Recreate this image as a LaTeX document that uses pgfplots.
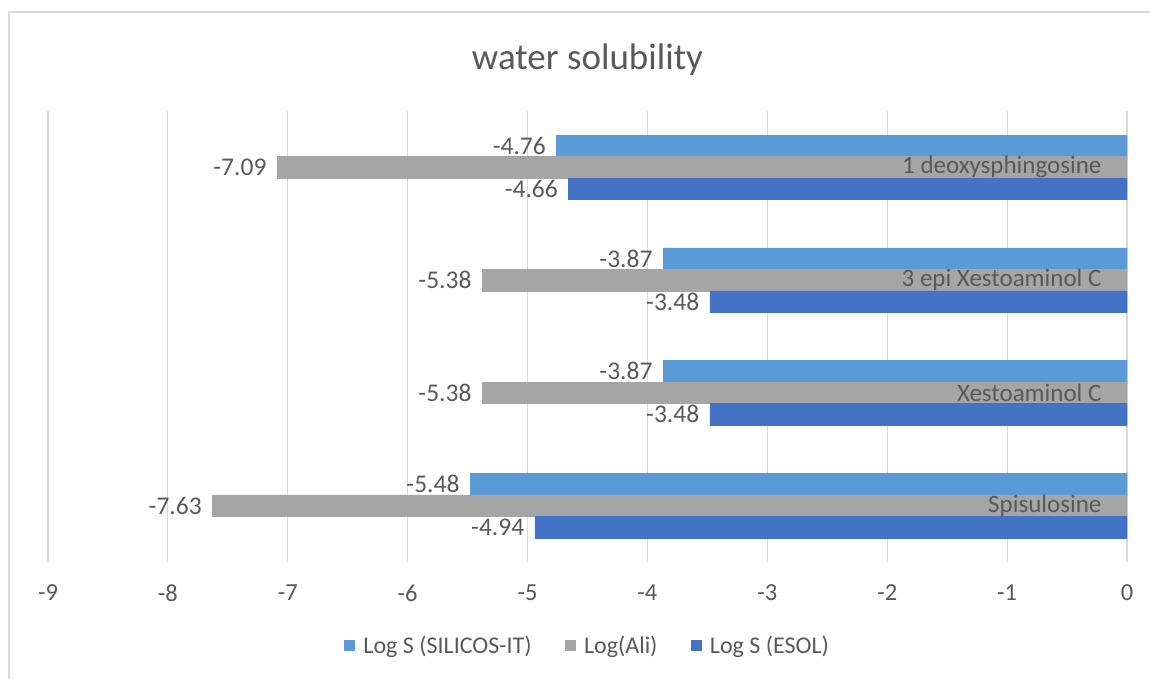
\documentclass[border=0pt]{standalone}
\usepackage{fontspec}
\setmainfont{Carlito}
\usepackage{pgfplots}
\pgfplotsset{compat=1.18}
\definecolor{cSil}{HTML}{5B9BD5}
\definecolor{cAli}{HTML}{A5A5A5}
\definecolor{cEsol}{HTML}{4472C4}
\definecolor{txt}{HTML}{595959}
\definecolor{gridc}{HTML}{D9D9D9}
\begin{document}
\begin{tikzpicture}[x=1pt,y=1pt]
\path[use as bounding box] (0,0) rectangle (1150,679);
\draw[gridc, line width=1.5pt] (9,0) -- (9,667) -- (1150,667);
\begin{axis}[
  at={(48pt,117pt)}, anchor=south west,
  width=1079pt, height=451pt, scale only axis,
  xmin=-9, xmax=0, ymin=-0.5, ymax=3.5,
  xtick={-9,-8,-7,-6,-5,-4,-3,-2,-1,0},
  ytick=\empty,
  xticklabel style={font=\fontsize{24.5}{28}\selectfont, text=txt, yshift=-19pt},
  major tick length=0pt,
  xmajorgrids, grid style={gridc, line width=1.2pt},
  axis line style={draw=none},
  /pgf/number format/assume math mode=true,
  xbar, bar width=21.5pt,
  title={water solubility},
  title style={at={(0.5,1)}, anchor=center, yshift=45pt, font=\fontsize{37}{41}\selectfont, text=txt},
  nodes near coords={\pgfmathprintnumber[fixed,fixed zerofill,precision=2,assume math mode=true]{\pgfplotspointmeta}},
  nodes near coords style={anchor=east, xshift=-7pt, font=\fontsize{25.5}{28}\selectfont, text=txt},
  legend columns=3,
  legend style={at={(0.5,-0.184)}, anchor=center, draw=none, fill=none,
    font=\fontsize{24}{28}\selectfont, text=txt,
    /tikz/every odd column/.append style={column sep=7pt},
    /tikz/every even column/.append style={column sep=31pt}},
  legend image code/.code={\fill[#1] (0pt,-5pt) rectangle (10pt,5pt);},
]
\addplot[fill=cSil, draw=cSil, bar shift=21.5pt] coordinates {(-5.48,0) (-3.87,1) (-3.87,2) (-4.76,3)};
\addlegendentry{Log S (SILICOS-IT)}
\addplot[fill=cAli, draw=cAli, bar shift=0pt] coordinates {(-7.63,0) (-5.38,1) (-5.38,2) (-7.09,3)};
\addlegendentry{Log(Ali)}
\addplot[fill=cEsol, draw=cEsol, bar shift=-21.5pt] coordinates {(-4.94,0) (-3.48,1) (-3.48,2) (-4.66,3)};
\addlegendentry{Log S (ESOL)}
\addplot[draw=none, fill=none, bar shift=0pt, forget plot,
  point meta=explicit symbolic,
  nodes near coords={\pgfplotspointmeta},
  nodes near coords style={anchor=east, xshift=-15pt, font=\fontsize{25}{28}\selectfont, text=txt}]
  coordinates {(0,0) [Spisulosine] (0,1) [Xestoaminol C] (0,2) [3 epi Xestoaminol C] (0,3) [1 deoxysphingosine]};
\end{axis}
\end{tikzpicture}
\end{document}
